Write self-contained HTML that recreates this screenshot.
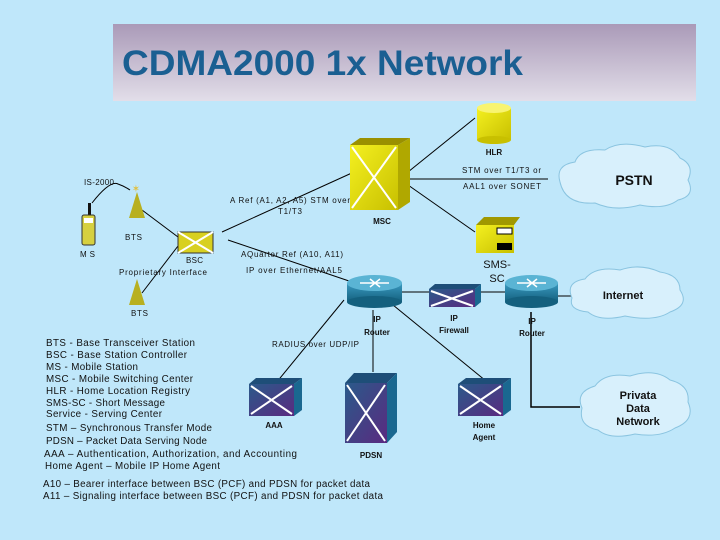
<!DOCTYPE html>
<html><head><meta charset="utf-8"><style>
html,body{margin:0;padding:0;background:#bfe7fa;}
svg{display:block;font-family:"Liberation Sans",sans-serif;}
</style></head><body>
<svg width="720" height="540" viewBox="0 0 720 540" xmlns="http://www.w3.org/2000/svg">
<defs>
<linearGradient id="tg" x1="0" y1="0" x2="0" y2="1"><stop offset="0" stop-color="#aa9ab8"/><stop offset="1" stop-color="#e2dee9"/></linearGradient>
<linearGradient id="yl" x1="0" y1="0" x2="1" y2="1"><stop offset="0" stop-color="#f4f020"/><stop offset="1" stop-color="#c8c000"/></linearGradient>
<linearGradient id="bl" x1="0" y1="0" x2="1" y2="1"><stop offset="0" stop-color="#2a5a8a"/><stop offset="1" stop-color="#5a2a80"/></linearGradient>
<linearGradient id="rt" x1="0" y1="0" x2="0" y2="1"><stop offset="0" stop-color="#3a9ac0"/><stop offset="1" stop-color="#14607e"/></linearGradient>
</defs>
<rect width="720" height="540" fill="#bfe7fa"/>
<rect x="113" y="24" width="583" height="77" fill="url(#tg)"/>
<text x="122" y="75" font-size="35" font-weight="bold" fill="#1a5f92" textLength="401" lengthAdjust="spacingAndGlyphs">CDMA2000 1x Network</text>

<g stroke="#000" stroke-width="1" fill="none">
<path d="M92 203 Q110 180 118 184 Q124 186 130 190"/>
<line x1="142" y1="210" x2="178" y2="237"/>
<line x1="142" y1="293" x2="178" y2="246"/>
<line x1="222" y1="232" x2="354" y2="172"/>
<line x1="228" y1="240" x2="352" y2="282"/>
<line x1="408" y1="172" x2="475" y2="118"/>
<line x1="408" y1="179" x2="548" y2="179"/>
<line x1="408" y1="185" x2="475" y2="232"/>
<line x1="402" y1="292" x2="430" y2="292"/>
<line x1="480" y1="292" x2="506" y2="292"/>
<line x1="558" y1="296" x2="572" y2="296"/>
<line x1="373" y1="310" x2="373" y2="372"/>
<line x1="393" y1="305" x2="486" y2="381"/>
<line x1="344" y1="300" x2="276" y2="383"/>
<polyline points="531,312 531,407 580,407" stroke-width="1.5"/>
</g>

<rect x="88" y="203" width="3" height="13" fill="#111"/>
<rect x="82" y="215" width="13" height="30" rx="2" fill="#d6d040" stroke="#333"/>
<rect x="84" y="218" width="9" height="5" fill="#fff"/>
<polygon points="137,192 129,218 145,218" fill="#b8b020"/>
<polygon points="137,279 129,305 145,305" fill="#b8b020"/>
<text x="136" y="192" font-size="10" fill="#e0c040" text-anchor="middle">✶</text>
<rect x="178" y="232" width="35" height="21" fill="#d8d020" stroke="#333"/>
<path d="M178 232 L213 253 M213 232 L178 253" stroke="#fff" stroke-width="2"/>
<polygon points="350,145 360,138 410,138 398,145" fill="#9a9000"/>
<polygon points="398,145 410,138 410,202 398,210" fill="#b0a800"/>
<rect x="350" y="145" width="48" height="65" fill="url(#yl)"/>
<path d="M352 147 L396 208 M396 147 L352 208" stroke="#fff" stroke-width="2"/>
<rect x="477" y="108" width="34" height="32" fill="url(#yl)"/>
<ellipse cx="494" cy="108" rx="17" ry="5" fill="#f8f470"/>
<ellipse cx="494" cy="140" rx="17" ry="4" fill="#c8c000"/>
<polygon points="476,225 484,217 520,217 514,225" fill="#a09800"/>
<rect x="476" y="225" width="38" height="28" fill="url(#yl)"/>
<rect x="497" y="228" width="15" height="6" fill="#fff" stroke="#000"/>
<rect x="497" y="243" width="15" height="7" fill="#000"/>
<g>
<rect x="347" y="283" width="55" height="19" fill="url(#rt)"/>
<ellipse cx="374.5" cy="302" rx="27.5" ry="6" fill="#14607e"/>
<ellipse cx="374.5" cy="283" rx="27.5" ry="8" fill="#5ab4d4"/>
<path d="M360 283 H389 M370 279 L380 287 M380 279 L370 287" stroke="#fff" stroke-width="1.5"/>
<rect x="505" y="283" width="53" height="19" fill="url(#rt)"/>
<ellipse cx="531.5" cy="302" rx="26.5" ry="6" fill="#14607e"/>
<ellipse cx="531.5" cy="283" rx="26.5" ry="8" fill="#5ab4d4"/>
<path d="M517 283 H546 M527 279 L537 287 M537 279 L527 287" stroke="#fff" stroke-width="1.5"/>
</g>
<polygon points="429,289 435,284 481,284 475,289" fill="#1e4e78"/>
<rect x="429" y="289" width="46" height="18" fill="url(#bl)"/>
<polygon points="475,289 481,284 481,302 475,307" fill="#1a6890"/>
<path d="M431 291 L473 306 M473 291 L431 306" stroke="#fff" stroke-width="2"/>
<polygon points="249,384 256,378 302,378 294,384" fill="#1e4e78"/>
<rect x="249" y="384" width="45" height="32" fill="url(#bl)"/>
<polygon points="294,384 302,378 302,410 294,416" fill="#1a6890"/>
<path d="M251 386 L292 414 M292 386 L251 414" stroke="#fff" stroke-width="2"/>
<polygon points="345,383 354,373 397,373 387,383" fill="#1e4e78"/>
<rect x="345" y="383" width="42" height="60" fill="url(#bl)"/>
<polygon points="387,383 397,373 397,432 387,443" fill="#1a6890"/>
<path d="M347 385 L385 441 M385 385 L347 441" stroke="#fff" stroke-width="2"/>
<polygon points="458,384 466,378 511,378 503,384" fill="#1e4e78"/>
<rect x="458" y="384" width="45" height="32" fill="url(#bl)"/>
<polygon points="503,384 511,378 511,410 503,416" fill="#1a6890"/>
<path d="M460 386 L501 414 M501 386 L460 414" stroke="#fff" stroke-width="2"/>
<g fill="#d8f0fc" stroke="#8ac4e0" stroke-width="1">
<path d="M560 182 Q555 165 575 162 Q580 148 605 150 Q620 140 645 147 Q670 142 680 158 Q695 165 688 180 Q696 196 678 200 Q665 210 640 205 Q615 212 595 203 Q565 205 560 182Z"/>
<path d="M572 298 Q565 282 585 279 Q595 266 620 270 Q640 263 660 272 Q680 275 680 290 Q690 305 670 312 Q655 322 625 316 Q600 322 588 312 Q568 310 572 298Z"/>
<path d="M582 408 Q575 392 595 386 Q605 372 630 376 Q655 368 670 380 Q690 385 688 402 Q696 420 675 428 Q660 438 635 434 Q610 440 598 430 Q578 426 582 408Z"/>
</g>

<g font-size="12" font-weight="bold" fill="#111" text-anchor="middle">
<text x="634" y="185" font-size="14">PSTN</text>
<text x="623" y="299" font-size="11">Internet</text>
<text x="638" y="399" font-size="11">Privata</text>
<text x="638" y="412" font-size="11">Data</text>
<text x="638" y="425" font-size="11">Network</text>
</g>
<g font-size="8" font-weight="bold" fill="#111" text-anchor="middle">
<text x="494" y="155">HLR</text>
<text x="382" y="224">MSC</text>
<text x="377" y="322">IP</text>
<text x="377" y="335">Router</text>
<text x="454" y="321">IP</text>
<text x="454" y="333">Firewall</text>
<text x="532" y="324">IP</text>
<text x="532" y="336">Router</text>
<text x="274" y="428">AAA</text>
<text x="371" y="458">PDSN</text>
<text x="484" y="428">Home</text>
<text x="484" y="440">Agent</text>
</g>
<text x="497" y="268" font-size="11" fill="#111" text-anchor="middle">SMS-</text>
<text x="497" y="282" font-size="11" fill="#111" text-anchor="middle">SC</text>

<g font-size="8" fill="#111" lengthAdjust="spacing">
<text x="84" y="185" textLength="30">IS-2000</text>
<text x="125" y="240" textLength="17">BTS</text>
<text x="80" y="257" textLength="15">MS</text>
<text x="186" y="263" textLength="17">BSC</text>
<text x="119" y="275" textLength="88">Proprietary Interface</text>
<text x="131" y="316" textLength="17">BTS</text>
<text x="230" y="203" textLength="120">A Ref (A1, A2, A5) STM over</text>
<text x="278" y="214" textLength="24">T1/T3</text>
<text x="241" y="257" textLength="102">AQuarter Ref (A10, A11)</text>
<text x="246" y="273" textLength="96">IP over Ethernet/AAL5</text>
<text x="462" y="173" textLength="79">STM over T1/T3 or</text>
<text x="463" y="189" textLength="78">AAL1 over SONET</text>
<text x="272" y="347" textLength="87">RADIUS over UDP/IP</text>
</g>
<g font-size="9.8" fill="#111">
<text x="46" y="346" textLength="149">BTS - Base Transceiver Station</text>
<text x="46" y="358" textLength="141">BSC - Base Station Controller</text>
<text x="46" y="370" textLength="92">MS - Mobile Station</text>
<text x="46" y="382" textLength="147">MSC - Mobile Switching Center</text>
<text x="46" y="394" textLength="144">HLR - Home Location Registry</text>
<text x="46" y="406" textLength="119">SMS-SC - Short Message</text>
<text x="46" y="417" textLength="116">Service - Serving Center</text>
<text x="46" y="431" textLength="166">STM – Synchronous Transfer Mode</text>
<text x="46" y="444" textLength="161">PDSN – Packet Data Serving Node</text>
<text x="44" y="457" textLength="253">AAA – Authentication, Authorization, and Accounting</text>
<text x="45" y="469" textLength="175">Home Agent – Mobile IP Home Agent</text>
<text x="43" y="487" textLength="327">A10 – Bearer interface between BSC (PCF) and PDSN for packet data</text>
<text x="43" y="499" textLength="340">A11 – Signaling interface between BSC (PCF) and PDSN for packet data</text>
</g>
</svg>
</body></html>
